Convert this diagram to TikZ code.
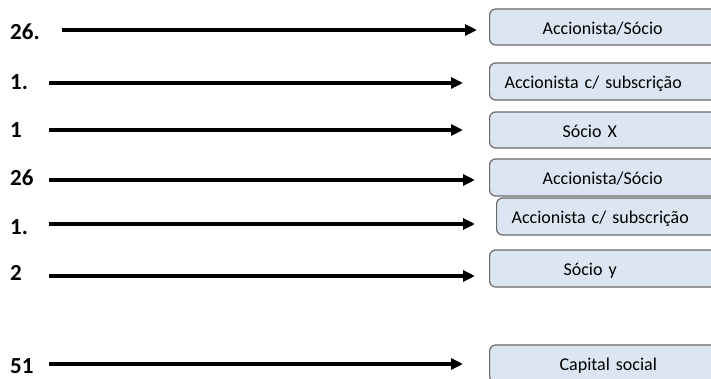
\documentclass[tikz,border=0pt]{standalone}
\usepackage{fontspec}
\setmainfont{Carlito}
\usetikzlibrary{arrows.meta}
\definecolor{boxfill}{HTML}{DCE6F2}
\definecolor{boxline}{HTML}{6A6A6A}
\tikzset{
  qty/.style={anchor=base west, inner sep=0pt, font=\fontsize{23}{26}\selectfont\bfseries},
  entity/.style={draw=boxline, line width=1.2pt, fill=boxfill, rounded corners=6pt,
    anchor=west, align=left, text width=260pt, inner ysep=0pt,
    text height=17pt, text depth=3pt,
    font=\fontsize{18}{20}\selectfont},
  flow/.style={line width=3.4pt, -{Triangle[length=12pt,width=11pt]}}
}
\begin{document}
\begin{tikzpicture}[x=1pt,y=-1pt]
\useasboundingbox (0,0) rectangle (711,378);
\clip (0,0) rectangle (711,378);
\fill[white] (0,0) rectangle (711,378);

% quantities
\node[qty] (q1) at (10,39)  {26.};
\node[qty] (q2) at (10,89)  {1.};
\node[qty] (q3) at (10,137) {1};
\node[qty] (q4) at (10,185) {26};
\node[qty] (q5) at (10,234) {1.};
\node[qty] (q6) at (10,280) {2};
\node[qty] (q7) at (10,373) {51};

% entities (right side runs off the page)
\node[entity, minimum height=36pt, inner xsep=53pt] (b1) at (489,27)    {Accionista/Sócio};
\node[entity, minimum height=37pt, inner xsep=15pt] (b2) at (489,81.5)  {Accionista c/ subscrição};
\node[entity, minimum height=36pt, inner xsep=73pt] (b3) at (489,130)   {Sócio X};
\node[entity, minimum height=37pt, inner xsep=53pt] (b4) at (489,177.5) {Accionista/Sócio};
\node[entity, minimum height=37pt, inner xsep=15pt] (b5) at (496,216.5) {Accionista c/ subscrição};
\node[entity, minimum height=37pt, inner xsep=74pt] (b6) at (489,268.5) {Sócio y};
\node[entity, minimum height=37pt, inner xsep=70pt] (b7) at (489,363.5) {Capital social};

% arrow start points
\coordinate (s1) at (62,30);
\coordinate (s2) at (49,83);
\coordinate (s3) at (49,130);
\coordinate (s4) at (49,180);
\coordinate (s5) at (49,224);
\coordinate (s6) at (49,276);
\coordinate (s7) at (49,364);

\draw[flow, shorten >=12pt] (s1) -- (s1 -| b1.west);
\draw[flow, shorten >=26pt] (s2) -- (s2 -| b2.west);
\draw[flow, shorten >=26pt] (s3) -- (s3 -| b3.west);
\draw[flow, shorten >=14pt] (s4) -- (s4 -| b4.west);
\draw[flow, shorten >=21pt] (s5) -- (s5 -| b5.west);
\draw[flow, shorten >=14pt] (s6) -- (s6 -| b6.west);
\draw[flow, shorten >=26pt] (s7) -- (s7 -| b7.west);
\end{tikzpicture}
\end{document}
